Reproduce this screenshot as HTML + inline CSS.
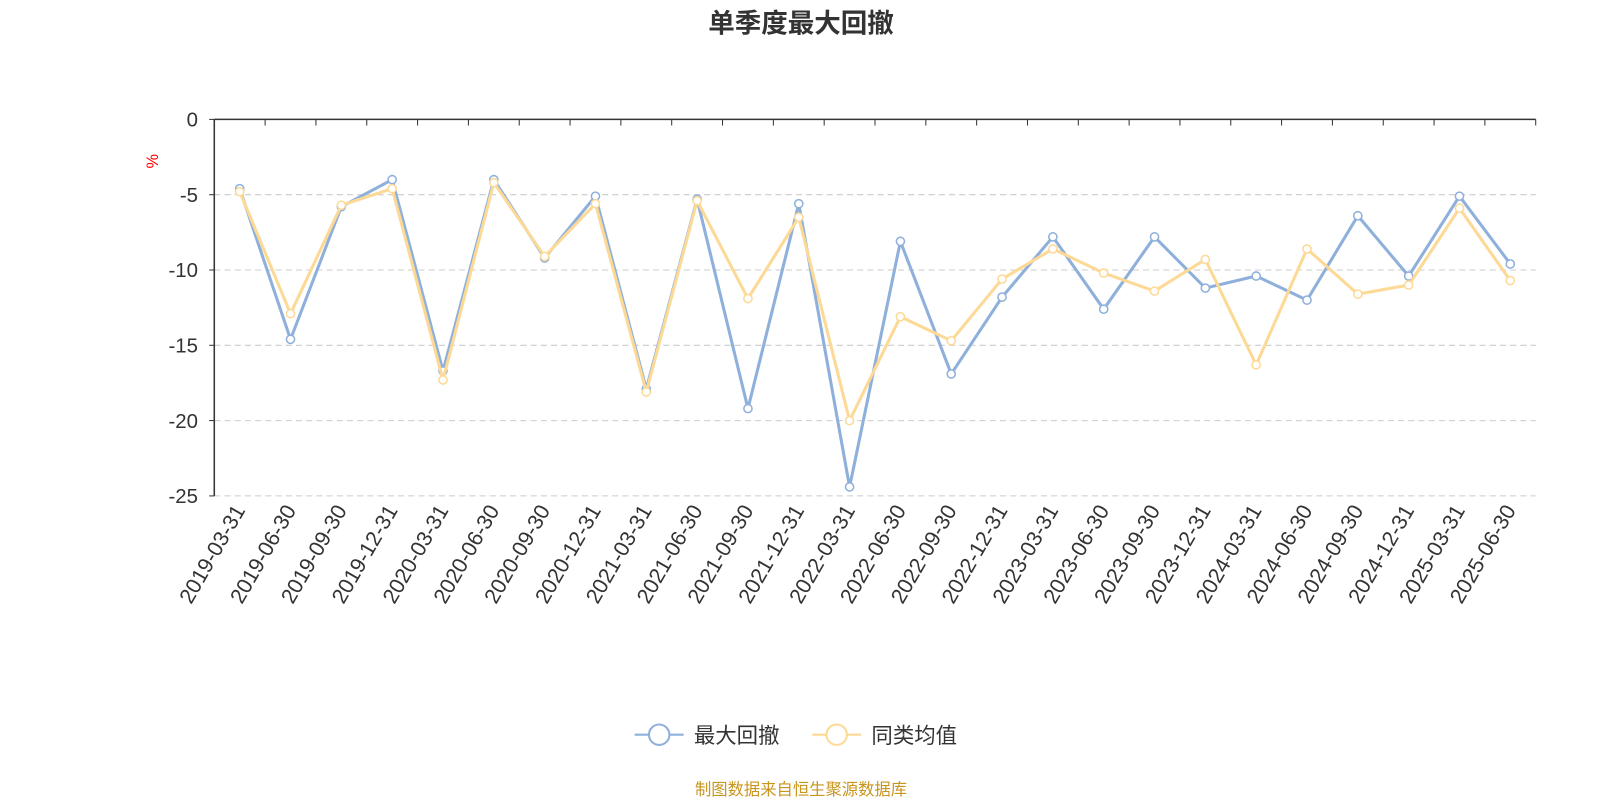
<!DOCTYPE html>
<html><head><meta charset="utf-8"><style>
body{margin:0;background:#fff;font-family:"Liberation Sans","Noto Sans CJK SC",sans-serif;}
</style></head><body>
<svg id="chart" width="1600" height="800" viewBox="0 0 1568 784" xmlns="http://www.w3.org/2000/svg" font-family="Liberation Sans, Noto Sans CJK SC, sans-serif">
<text x="785" y="32" text-anchor="middle" font-size="26" font-weight="bold" fill="#333">单季度最大回撤</text>
<text x="155" y="158" font-size="16" fill="red" transform="rotate(-90 155 158)" text-anchor="middle">%</text>
<g id="grid"></g><g id="axes"></g><g id="series"></g>
<g>
<g>
<line x1="622" y1="720" x2="670" y2="720" stroke="#8eb0db" stroke-width="2"/>
<circle cx="646" cy="720" r="10" fill="#fff" stroke="#8eb0db" stroke-width="2"/>
<text x="680" y="728" font-size="21" fill="#333">最大回撤</text></g>
<g>
<line x1="796" y1="720" x2="844" y2="720" stroke="#fdd996" stroke-width="2"/>
<circle cx="820" cy="720" r="10" fill="#fff" stroke="#fdd996" stroke-width="2"/>
<text x="854" y="728" font-size="21" fill="#333">同类均值</text></g>
</g>
<text x="785" y="779" text-anchor="middle" font-size="16" fill="#c8961e">制图数据来自恒生聚源数据库</text>
</svg>
<script>
const categories=["2019-03-31","2019-06-30","2019-09-30","2019-12-31","2020-03-31","2020-06-30","2020-09-30","2020-12-31","2021-03-31","2021-06-30","2021-09-30","2021-12-31","2022-03-31","2022-06-30","2022-09-30","2022-12-31","2023-03-31","2023-06-30","2023-09-30","2023-12-31","2024-03-31","2024-06-30","2024-09-30","2024-12-31","2025-03-31","2025-06-30"];
const maxDrawdown=[-4.6,-14.6,-5.8,-4.0,-16.7,-4.0,-9.2,-5.1,-17.9,-5.3,-19.2,-5.6,-24.4,-8.1,-16.9,-11.8,-7.8,-12.6,-7.8,-11.2,-10.4,-12.0,-6.4,-10.4,-5.1,-9.6];
const peerAverage=[-4.8,-12.9,-5.7,-4.6,-17.3,-4.2,-9.1,-5.6,-18.1,-5.4,-11.9,-6.5,-20.0,-13.1,-14.7,-10.6,-8.6,-10.2,-11.4,-9.3,-16.3,-8.6,-11.6,-11.0,-5.9,-10.7];
const yTicks=[0,-5,-10,-15,-20,-25];
const NS="http://www.w3.org/2000/svg";
const L=210,R=1505,T=117,B=486;
const step=(R-L)/categories.length;
const xs=i=>L+step*(i+0.5);
const ys=v=>T+(0-v)/25*(B-T);
function mk(tag,attrs,parent){const e=document.createElementNS(NS,tag);for(const k in attrs)e.setAttribute(k,attrs[k]);parent.appendChild(e);return e;}
const grid=document.getElementById('grid'),axes=document.getElementById('axes'),ser=document.getElementById('series');
yTicks.forEach(t=>{
  const y=ys(t);
  if(t!==0){const g=mk('line',{x1:L,x2:R,y1:y,y2:y,stroke:'#ccc','stroke-dasharray':'6,4'},grid);
  
  }
  const tx=mk('text',{x:L-16,y:y+7,'text-anchor':'end','font-size':20,fill:'#333'},axes);tx.textContent=t;
  
  
  mk('line',{x1:L-5,x2:L,y1:y,y2:y,stroke:'#333'},axes);
});
const ya=mk('line',{x1:L,x2:L,y1:T,y2:B,stroke:'#333','stroke-width':1.5},axes);


const xa=mk('line',{x1:L,x2:R,y1:T,y2:T,stroke:'#333','stroke-width':1.5},axes);


for(let i=0;i<=categories.length;i++){const x=L+step*i;mk('line',{x1:x,x2:x,y1:T,y2:T+6,stroke:'#333'},axes);}
categories.forEach((c,i)=>{
  const x=xs(i)+6,y=B+14;
  const t=mk('text',{x:x,y:y,'text-anchor':'end','font-size':21,fill:'#333',transform:`rotate(-60 ${x} ${y})`},axes);
  t.textContent=c;
  
  
});
function drawSeries(vals,color,name){
  const p=mk('polyline',{points:vals.map((v,i)=>xs(i)+','+ys(v)).join(' '),fill:'none',stroke:color,'stroke-width':3},ser);
  
  
  vals.forEach((v,i)=>{
    const c=mk('circle',{cx:xs(i),cy:ys(v),r:4,fill:'#fff',stroke:color,'stroke-width':1.5},ser);
    
    
  });
}
drawSeries(maxDrawdown,'#8eb0db','max-drawdown');
drawSeries(peerAverage,'#fdd996','peer-average');
</script>
</body></html>
